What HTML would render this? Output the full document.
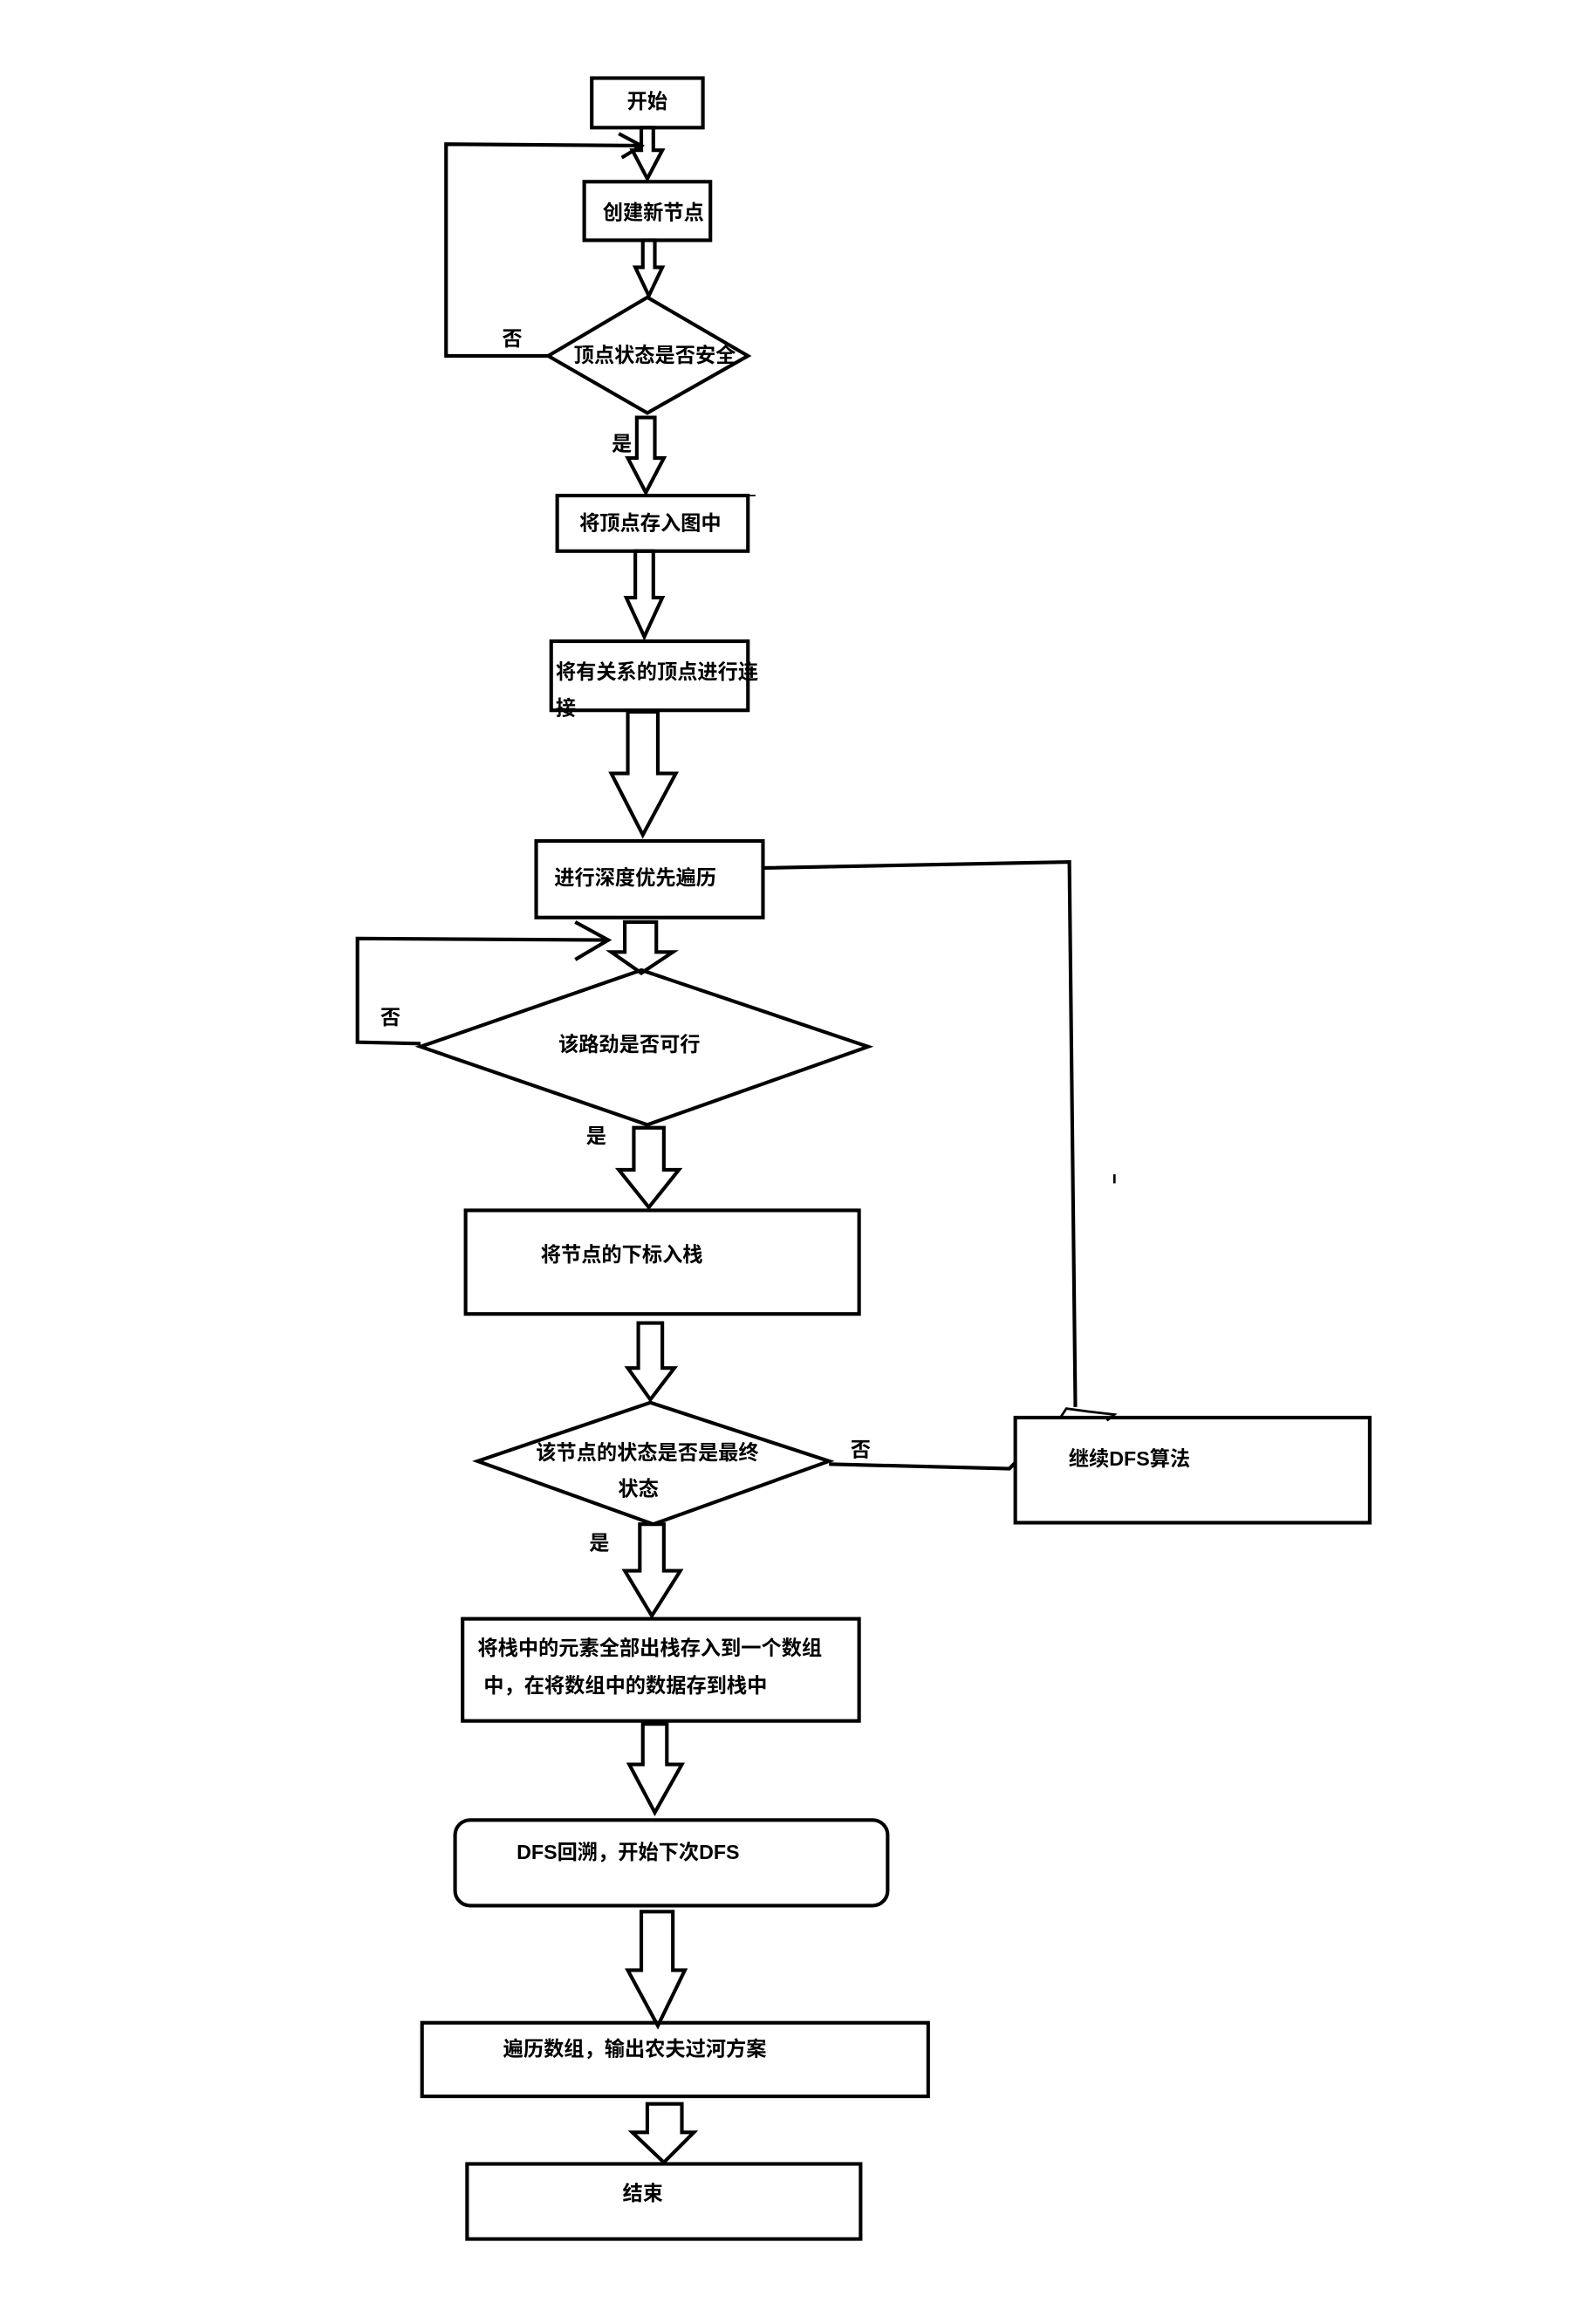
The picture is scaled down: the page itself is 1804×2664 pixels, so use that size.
<!DOCTYPE html>
<html><head><meta charset="utf-8"><style>
html,body{margin:0;padding:0;background:#fff;}
svg{display:block;}
text{font-family:"Liberation Sans","Noto Sans CJK SC",sans-serif;font-weight:bold;font-size:13.5px;fill:#000;}
</style></head><body>
<svg width="1804" height="2664" viewBox="0 0 1048 1547.6" xmlns="http://www.w3.org/2000/svg">
<g fill="none" stroke="#000" stroke-width="2.4" stroke-linejoin="miter">
<!-- boxes -->
<rect x="394" y="52" width="74" height="33"/>
<rect x="389" y="121" width="84" height="39"/>
<rect x="371" y="330" width="127" height="37"/>
<line x1="498" y1="330" x2="503" y2="330" stroke-width="1"/>
<rect x="367" y="427" width="131" height="46"/>
<rect x="357" y="560" width="151" height="51"/>
<rect x="310" y="806" width="262" height="69"/>
<rect x="676" y="944" width="236" height="70"/>
<rect x="308" y="1078" width="264" height="68"/>
<rect x="303" y="1212" width="288" height="57" rx="10"/>
<rect x="281" y="1347" width="337" height="49"/>
<rect x="311" y="1441" width="262" height="50"/>
<!-- diamonds -->
<polygon points="431,198 498,237 431,275 365,237"/>
<polygon points="427,646 578,697 431,749 280,697"/>
<polygon points="433,934 552,973 435,1015 318,973"/>
<!-- hollow arrows -->
<polygon points="427,85 435,85 435,100 441,100 431,119 421,100 427,100"/>
<polygon points="428,160 436,160 436,178 441,178 432,197 423,178 428,178"/>
<polygon points="424,278 436,278 436,305 442,305 430,328 418,305 424,305"/>
<polygon points="423,367 435,367 435,398 441,398 429,424 417,398 423,398"/>
<polygon points="418,474 438,474 438,515 450,515 428,556 407,515 418,515"/>
<polygon points="416,614 437,614 437,634 448,634 427,648 407,634 416,634"/>
<polygon points="422,751 442,751 442,779 452,779 432,804 412,779 422,779"/>
<polygon points="425,881 441,881 441,911 449,911 433,932 418,911 425,911"/>
<polygon points="426,1015 442,1015 442,1046 453,1046 434,1076 416,1046 426,1046"/>
<polygon points="428,1148 444,1148 444,1175 454,1175 436,1207 419,1175 428,1175"/>
<polygon points="427,1273 448,1273 448,1312 456,1312 438,1349 418,1312 427,1312"/>
<polygon points="431,1401 454,1401 454,1420 462,1420 442,1440 421,1420 431,1420"/>
<!-- loops -->
<polyline points="365,237 297,237 297,96 427,97"/>
<polyline points="412,89 427,97 414,105"/>
<polyline points="280,695 238,694 238,625 405,626"/>
<polyline points="383,614 405,626 383,639"/>
<!-- right connectors -->
<polyline points="508,578 712,574 716,937"/>
<polyline points="552,975 672,978 676,974"/>
<path d="M706,944 L710,938 L725,940 L742,942 L737,946" stroke-width="1.6"/>
<line x1="742" y1="782" x2="742" y2="788" stroke-width="1.6"/>
</g>
<text x="431" y="72" text-anchor="middle">开始</text>
<text x="435" y="146" text-anchor="middle">创建新节点</text>
<text x="436" y="241" text-anchor="middle">顶点状态是否安全</text>
<text x="341" y="230" text-anchor="middle">否</text>
<text x="414" y="300" text-anchor="middle">是</text>
<text x="433" y="353" text-anchor="middle">将顶点存入图中</text>
<text x="370" y="452">将有关系的顶点进行连</text>
<text x="370" y="476">接</text>
<text x="423" y="589" text-anchor="middle">进行深度优先遍历</text>
<text x="260" y="682" text-anchor="middle">否</text>
<text x="419" y="700" text-anchor="middle">该路劲是否可行</text>
<text x="397" y="761" text-anchor="middle">是</text>
<text x="414" y="840" text-anchor="middle">将节点的下标入栈</text>
<text x="431" y="972" text-anchor="middle">该节点的状态是否是最终</text>
<text x="425" y="996" text-anchor="middle">状态</text>
<text x="573" y="970" text-anchor="middle">否</text>
<text x="752" y="976" text-anchor="middle">继续DFS算法</text>
<text x="399" y="1032" text-anchor="middle">是</text>
<text x="318" y="1102">将栈中的元素全部出栈存入到一个数组</text>
<text x="322" y="1127">中，在将数组中的数据存到栈中</text>
<text x="344" y="1238">DFS回溯，开始下次DFS</text>
<text x="335" y="1369">遍历数组，输出农夫过河方案</text>
<text x="428" y="1465" text-anchor="middle">结束</text>
</svg>
</body></html>
